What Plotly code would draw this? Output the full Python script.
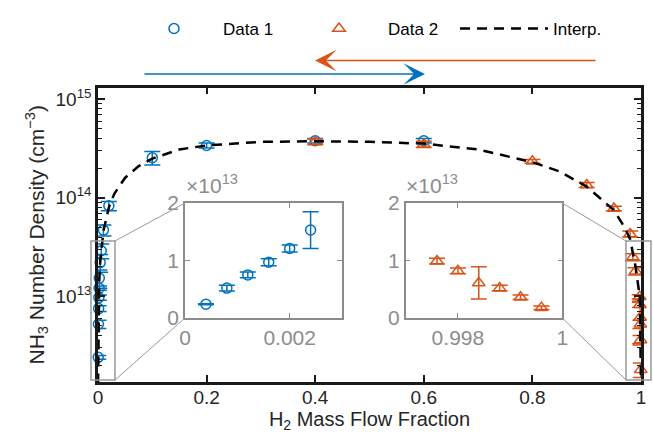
import plotly.graph_objects as go

W, H = 653, 438
BLUE = "#0072BD"
ORANGE = "#D95319"
GRAY = "#8c8c8c"
TXT = "#262626"

# ---------------- data ----------------
d1_x = [0.0004, 0.0008, 0.0012, 0.0016, 0.0020, 0.0024, 0.004, 0.006, 0.01, 0.02, 0.1, 0.2, 0.4, 0.6]
d1_y = [0.24e13, 0.52e13, 0.75e13, 0.97e13, 1.21e13, 1.53e13, 2.2e13, 2.9e13, 4.7e13, 8.3e13,
        2.55e14, 3.4e14, 3.8e14, 3.8e14]
d1_err = [0.01e13, 0.05e13, 0.05e13, 0.06e13, 0.06e13, 0.32e13, 0.45e13, 0.5e13, 0.6e13, 0.9e13,
          0.4e14, 0.2e14, 0.2e14, 0.2e14]

d2_x = [0.4, 0.6, 0.8, 0.9, 0.95, 0.98, 0.985, 0.99, 0.9976, 0.9980, 0.9984, 0.9988, 0.9992, 0.9996]
d2_y = [3.7e14, 3.5e14, 2.35e14, 1.35e14, 7.8e13, 4.3e13, 2.5e13, 1.8e13,
        0.99e13, 0.82e13, 0.61e13, 0.52e13, 0.36e13, 0.18e13]
d2_err = [0.25e14, 0.25e14, 0.1e14, 0.08e14, 0.4e13, 0.3e13, 0.2e13, 0.15e13,
          0.05e13, 0.05e13, 0.28e13, 0.05e13, 0.04e13, 0.03e13]

interp_x = [0.0001, 0.0004, 0.0008, 0.0012, 0.0016, 0.002, 0.0024, 0.004, 0.006, 0.01, 0.02, 0.03,
            0.05, 0.075, 0.1, 0.15, 0.2, 0.3, 0.4, 0.5, 0.6, 0.7, 0.8, 0.85, 0.9, 0.95, 0.97,
            0.98, 0.99, 0.995, 0.9976, 0.998, 0.9984, 0.9988, 0.9992, 0.9996, 0.9999]
interp_y = [1.3e12, 2.4e12, 5.2e12, 7.5e12, 9.7e12, 1.2e13, 1.45e13, 2.2e13, 3.0e13, 4.6e13, 8.0e13, 1.1e14,
            1.6e14, 2.1e14, 2.5e14, 3.1e14, 3.4e14, 3.7e14, 3.75e14, 3.7e14, 3.55e14, 3.1e14, 2.3e14,
            1.85e14, 1.3e14, 7.5e13, 5.0e13, 3.8e13, 2.0e13, 1.3e13, 1.0e13, 8.0e12, 6.5e12, 5.0e12,
            3.6e12, 1.8e12, 1.3e12]

x_ticks = [0, 0.2, 0.4, 0.6, 0.8, 1]
y_ticks = [1e13, 1e14, 1e15]
y_ticktext = ["10<sup>13</sup>", "10<sup>14</sup>", "10<sup>15</sup>"]
y_minor = [m * 10 ** e for e in (12, 13, 14) for m in range(2, 10)]

ins1_range = [0, 0.003]
ins1_ticks = [0, 0.002]
ins1_ticktext = ["0", "0.002"]
ins2_range = [0.997, 1.0]
ins2_ticks = [0.998, 1.0]
ins2_ticktext = ["0.998", "1"]
ins_y_ticks = [0, 1e13, 2e13]
ins_y_ticktext = ["0", "1", "2"]


def px(v):
    return v / W


def py(v):
    return 1 - v / H


fig = go.Figure()

err_style = dict(type="data", thickness=1.5, width=8)

# main
fig.add_trace(go.Scatter(
    x=d1_x, y=d1_y, mode="markers", name="Data 1", cliponaxis=False,
    error_y=dict(array=d1_err, color=BLUE, **err_style),
    marker=dict(symbol="circle-open", size=10, color=BLUE, line=dict(width=1.5, color=BLUE))))
fig.add_trace(go.Scatter(
    x=d2_x, y=d2_y, mode="markers", name="Data 2", cliponaxis=False,
    error_y=dict(array=d2_err, color=ORANGE, **err_style),
    marker=dict(symbol="triangle-up-open", size=11, color=ORANGE, line=dict(width=1.5, color=ORANGE))))
fig.add_trace(go.Scatter(
    x=interp_x, y=interp_y, mode="lines", name="Interp.",
    line=dict(color="black", width=2.5, dash="10px,7px")))

# insets
i1 = [i for i, v in enumerate(d1_x) if ins1_range[0] <= v <= ins1_range[1]]
i2 = [i for i, v in enumerate(d2_x) if ins2_range[0] <= v <= ins2_range[1]]
fig.add_trace(go.Scatter(
    x=[d1_x[i] for i in i1], y=[d1_y[i] for i in i1], mode="markers", showlegend=False,
    xaxis="x2", yaxis="y2", cliponaxis=False,
    error_y=dict(array=[d1_err[i] for i in i1], color=BLUE, **err_style),
    marker=dict(symbol="circle-open", size=10, color=BLUE, line=dict(width=1.5, color=BLUE))))
fig.add_trace(go.Scatter(
    x=[d2_x[i] for i in i2], y=[d2_y[i] for i in i2], mode="markers", showlegend=False,
    xaxis="x3", yaxis="y3", cliponaxis=False,
    error_y=dict(array=[d2_err[i] for i in i2], color=ORANGE, **err_style),
    marker=dict(symbol="triangle-up-open", size=11, color=ORANGE, line=dict(width=1.5, color=ORANGE))))

FONT = "Liberation Sans, Arial, sans-serif"
main_ax = dict(showline=True, linewidth=2.5, linecolor="#1a1a1a", mirror="allticks",
               ticks="inside", ticklen=7, tickwidth=1.5, tickcolor="#1a1a1a",
               showgrid=False, zeroline=False, automargin=False,
               tickfont=dict(family=FONT, size=19, color=TXT))
ins_ax = dict(showline=True, linewidth=1.5, linecolor=GRAY, mirror="allticks",
              ticks="inside", ticklen=5, tickwidth=1.2, tickcolor=GRAY,
              showgrid=False, zeroline=False, automargin=False,
              tickfont=dict(family=FONT, size=21, color=GRAY))

dom_x1 = [px(98), px(641)]
dom_y1 = [py(382), py(87.5)]
ins_dy = [py(318), py(203)]

fig.update_layout(
    width=W, height=H, margin=dict(l=0, r=0, t=0, b=0, autoexpand=False),
    paper_bgcolor="white", plot_bgcolor="white",
    font=dict(family=FONT, color=TXT),
    xaxis=dict(domain=dom_x1, range=[0, 1], tickvals=x_ticks, ticklabelstandoff=-4,
               title=dict(text="H<sub>2</sub> Mass Flow Fraction", font=dict(size=20), standoff=0),
               **main_ax),
    yaxis=dict(domain=dom_y1, type="log", range=[12.13, 15.12], tickvals=y_ticks, ticktext=y_ticktext,
               minor=dict(tickvals=y_minor, ticks="inside", ticklen=4, tickwidth=1.2, tickcolor="#1a1a1a"),
               title=dict(text="NH<sub>3</sub> Number Density (cm<sup>−3</sup>)", font=dict(size=21), standoff=6),
               **main_ax),
    xaxis2=dict(domain=[px(185), px(342)], range=ins1_range, tickvals=ins1_ticks, ticktext=ins1_ticktext,
                anchor="y2", **ins_ax),
    yaxis2=dict(domain=ins_dy, range=[0, 2e13], tickvals=ins_y_ticks, ticktext=ins_y_ticktext,
                anchor="x2", **ins_ax),
    xaxis3=dict(domain=[px(405.7), px(562.3)], range=ins2_range, tickvals=ins2_ticks, ticktext=ins2_ticktext,
                anchor="y3", **ins_ax),
    yaxis3=dict(domain=ins_dy, range=[0, 2e13], tickvals=ins_y_ticks, ticktext=ins_y_ticktext,
                anchor="x3", **ins_ax),
    legend=dict(orientation="h", x=px(125), y=py(29), xanchor="left", yanchor="middle",
                font=dict(family=FONT, size=17, color="black"), itemwidth=88,
                entrywidth=62, bgcolor="rgba(0,0,0,0)"),
    showlegend=True,
)

# zoom rectangles and connector lines
gl = dict(color="#999999", width=1.5)
shapes = [
    dict(type="rect", xref="paper", yref="paper", x0=px(91), x1=px(115), y0=py(380), y1=py(241), line=gl),
    dict(type="rect", xref="paper", yref="paper", x0=px(626), x1=px(651), y0=py(380), y1=py(241), line=gl),
    dict(type="line", xref="paper", yref="paper", x0=px(115), y0=py(241), x1=px(185), y1=py(203), line=dict(color="#999999", width=1)),
    dict(type="line", xref="paper", yref="paper", x0=px(115), y0=py(380), x1=px(185), y1=py(318), line=dict(color="#999999", width=1)),
    dict(type="line", xref="paper", yref="paper", x0=px(626), y0=py(241), x1=px(562.3), y1=py(203), line=dict(color="#999999", width=1)),
    dict(type="line", xref="paper", yref="paper", x0=px(626), y0=py(380), x1=px(562.3), y1=py(318), line=dict(color="#999999", width=1)),
]
fig.update_layout(shapes=shapes)

ann = [
    dict(text="×10<sup>13</sup>", xref="paper", yref="paper", x=px(184), y=py(199),
         xanchor="left", yanchor="bottom", showarrow=False, font=dict(family=FONT, size=21, color=GRAY)),
    dict(text="×10<sup>13</sup>", xref="paper", yref="paper", x=px(404), y=py(199),
         xanchor="left", yanchor="bottom", showarrow=False, font=dict(family=FONT, size=21, color=GRAY)),
    dict(text="", xref="paper", yref="paper", x=px(425), y=py(74), ax=-282, ay=0, axref="pixel", ayref="pixel",
         showarrow=True, arrowhead=3, arrowsize=2.4, arrowwidth=1.5, arrowcolor=BLUE),
    dict(text="", xref="paper", yref="paper", x=px(315), y=py(60.5), ax=282, ay=0, axref="pixel", ayref="pixel",
         showarrow=True, arrowhead=3, arrowsize=2.4, arrowwidth=1.5, arrowcolor=ORANGE),
]
fig.update_layout(annotations=ann)

fig.write_html("out.html")
